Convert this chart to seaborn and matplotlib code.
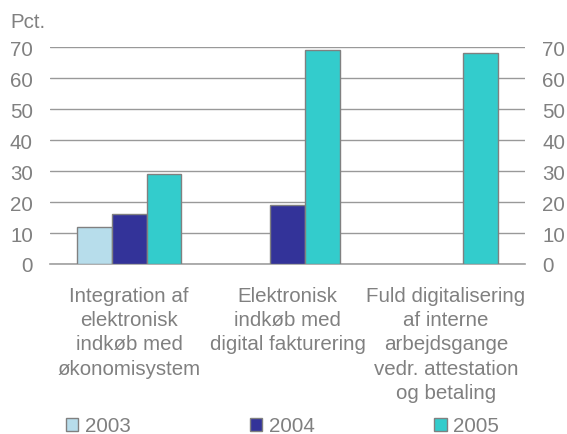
import matplotlib
matplotlib.use("Agg")
import matplotlib.pyplot as plt
import seaborn as sns
import pandas as pd
import numpy as np
from matplotlib.ticker import FixedLocator

categories = ["Integration af\nelektronisk\nindkøb med\nøkonomisystem",
              "Elektronisk\nindkøb med\ndigital fakturering",
              "Fuld digitalisering\naf interne\narbejdsgange\nvedr. attestation\nog betaling"]
years = ["2003", "2004", "2005"]
v2003 = [12, np.nan, np.nan]
v2004 = [16, 19, np.nan]
v2005 = [29, 69, 68]
colors = ["#B7DDEB", "#333399", "#33CCCC"]
yticks = [0, 10, 20, 30, 40, 50, 60, 70]

rows = []
for yr, vals in zip(years, [v2003, v2004, v2005]):
    for c, v in zip(categories, vals):
        rows.append({"cat": c, "year": yr, "val": v})
df = pd.DataFrame(rows)

sns.set_style("white")
plt.rcParams["font.family"] = ["Liberation Sans", "DejaVu Sans"]
grey = "#808080"
fs = 14.8

fig = plt.figure(figsize=(5.67, 4.35), dpi=100)
ax_h = (265 - 48.3) / 435
ax = fig.add_axes([50/567, 1-265/435, 475/567, ax_h])
sns.barplot(data=df, x="cat", y="val", hue="year", order=categories,
            hue_order=years, palette=colors, saturation=1, width=0.66, gap=0,
            edgecolor=grey, linewidth=1.0, ax=ax, zorder=3)
ax.set_ylim(0, 70)
ax.set_xlim(-0.5, 2.5)
ax.set_yticks(yticks)
ax.yaxis.grid(True, color="#999999", linewidth=1.0, zorder=0)
ax.set_axisbelow(True)
for s in ["left", "right", "top"]:
    ax.spines[s].set_visible(False)
ax.spines["bottom"].set_color("#A0A0A0")
ax.spines["bottom"].set_linewidth(1.2)
ax.tick_params(axis="y", length=0, labelsize=fs, labelcolor=grey, pad=12.3,
               labelright=True, right=False)
ax.tick_params(axis="x", which="major", length=0, labelbottom=False)
ax.xaxis.set_minor_locator(FixedLocator([-0.5, 0.5, 1.5, 2.5]))
ax.tick_params(axis="x", which="minor", length=6, width=1.2, color="#A0A0A0",
               direction="out")
ax.set_xlabel("")
ax.set_ylabel("")
for i, c in enumerate(categories):
    ax.text(i, -(287 - 265) / 435 / ax_h, c, transform=ax.get_xaxis_transform(),
            ha="center", va="top", fontsize=fs, color=grey, linespacing=1.35,
            multialignment="center")
fig.text(10/567, 1-22.5/435, "Pct.", fontsize=fs, color=grey, va="center", ha="left")

handles, labels = ax.get_legend_handles_labels()
ax.legend(handles, labels, ncol=3, loc="center left",
          bbox_to_anchor=(66/567, 1-427/435), bbox_transform=fig.transFigure,
          frameon=False, fontsize=fs, labelcolor=grey, handlelength=0.6,
          handleheight=0.6, handletextpad=0.33, columnspacing=5.8,
          borderpad=0, borderaxespad=0)

fig.savefig("out.png", dpi=100)
